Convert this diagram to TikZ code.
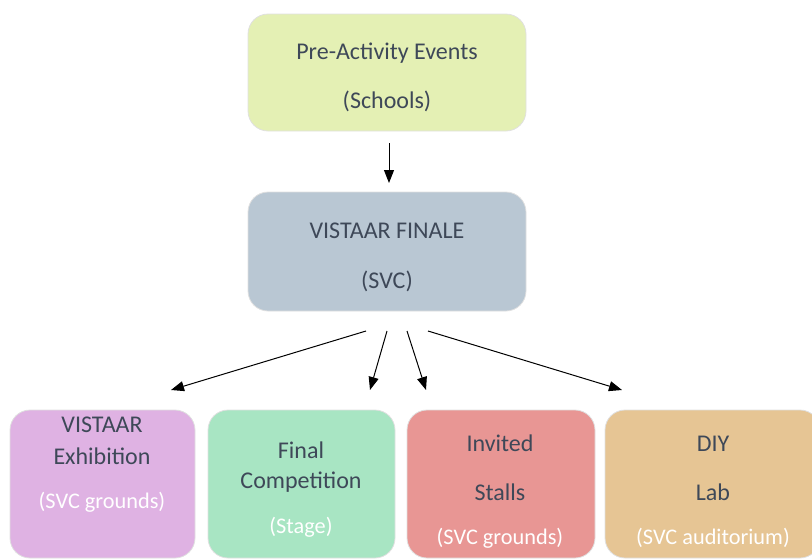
\documentclass[tikz,border=0pt]{standalone}
\usepackage{fontspec}
\setmainfont{Carlito}
\usetikzlibrary{arrows.meta}
\definecolor{cgreen}{RGB}{228,240,180}
\definecolor{cblue}{RGB}{185,199,211}
\definecolor{cpurple}{RGB}{223,178,227}
\definecolor{cmint}{RGB}{168,229,195}
\definecolor{cred}{RGB}{232,150,148}
\definecolor{corange}{RGB}{230,197,148}
\definecolor{ctext}{RGB}{62,72,88}
\tikzset{
  box/.style={rounded corners=20pt, draw=black!12, line width=0.8pt, inner sep=0pt},
  lbl/.style={font=\fontsize{24}{28}\selectfont, text=ctext, inner sep=0pt},
  sub/.style={font=\fontsize{22.3}{26}\selectfont, text=white, inner sep=0pt},
  arr/.style={-{Triangle[length=13pt,width=10pt]}, line width=1pt, black}
}
\begin{document}
\begin{tikzpicture}[x=1pt,y=-1pt]
\useasboundingbox (0,0) rectangle (812,558);
\clip (0,0) rectangle (812,558);
% boxes
\node[box, fill=cgreen, minimum width=278pt, minimum height=117pt] (top) at (387,72.5) {};
\node[box, fill=cblue, minimum width=278pt, minimum height=119pt] (mid) at (387,251.5) {};
\node[box, fill=cpurple, minimum width=185pt, minimum height=148pt] (b1) at (102.5,484) {};
\node[box, fill=cmint, minimum width=187pt, minimum height=148pt] (b2) at (301.5,484) {};
\node[box, fill=cred, minimum width=188pt, minimum height=148pt] (b3) at (501,484) {};
\node[box, fill=corange, minimum width=215pt, minimum height=148pt] (b4) at (712.5,484) {};
% texts
\node[lbl] (t1) at (387,53) {Pre-Activity Events};
\node[lbl] (t2) at (387,101) {(Schools)};
\node[lbl] (m1) at (387,231) {VISTAAR FINALE};
\node[lbl] (m2) at (387,281) {(SVC)};
\node[lbl] (p1) at (102,425) {VISTAAR};
\node[lbl] (p2) at (102,456) {Exhibition};
\node[sub] (p3) at (102,502) {(SVC grounds)};
\node[lbl] (g1) at (301,450) {Final};
\node[lbl] (g2) at (301,482) {Competition};
\node[sub] (g3) at (301,527) {(Stage)};
\node[lbl] (r1) at (500,443) {Invited};
\node[lbl] (r2) at (500,492) {Stalls};
\node[sub] (r3) at (500,538) {(SVC grounds)};
\node[lbl] (o1) at (713,444) {DIY};
\node[lbl] (o2) at (713,492) {Lab};
\node[sub] (o3) at (713,538) {(SVC auditorium)};
% connector end points
\coordinate (a0) at (389,143);
\coordinate (z0) at (389,183);
\coordinate (a1) at (366,331);
\coordinate (z1) at (171,390);
\coordinate (a2) at (387,331);
\coordinate (z2) at (370,390);
\coordinate (a3) at (407,331);
\coordinate (z3) at (426,390);
\coordinate (a4) at (428,331);
\coordinate (z4) at (622,390);
\draw[arr] (a0) -- (z0);
\draw[arr] (a1) -- (z1);
\draw[arr] (a2) -- (z2);
\draw[arr] (a3) -- (z3);
\draw[arr] (a4) -- (z4);
\end{tikzpicture}
\end{document}
